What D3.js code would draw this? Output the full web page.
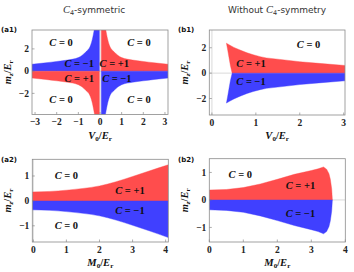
<!DOCTYPE html>
<html>
<head>
<meta charset="utf-8">
<script src="https://cdn.jsdelivr.net/npm/d3@7"></script>
<style>
  body { margin: 0; background: #fff; }
  svg { display: block; }
</style>
</head>
<body>
<div id="chart"></div>
<script>
// boundary of the C=+-1 regions, C4-symmetric case (|V0| vs mz)
var c4V = [0.06, 0.1, 0.15, 0.2, 0.26, 0.35, 0.44, 0.67, 1, 1.5, 2, 2.5, 3.14];
var c4M = [9, 7, 5.5, 4.5, 3.8, 2.9, 2.3, 1.7, 1.22, 1.0, 0.87, 0.75, 0.62];
var c4LeftV = [-3.14, -2.5, -2, -1.5, -1, -0.67, -0.44, -0.35, -0.26, -0.2, -0.15, -0.1, -0.03];
var c4LeftM = [0.62, 0.75, 0.87, 1.0, 1.22, 1.7, 2.3, 2.9, 3.8, 4.5, 5.5, 7, 9];

// without C4: upper boundary and left edge
var ncTopV = [0.33, 0.4, 0.5, 0.64, 0.8, 0.94, 1.1, 1.24, 1.55, 2, 2.5, 3.05];
var ncTopM = [2.36, 2.22, 2.03, 1.82, 1.6, 1.45, 1.3, 1.2, 1.08, 0.9, 0.75, 0.6];
var ncEdgeV = [0.33, 0.36, 0.39, 0.42, 0.46];
var ncEdgeM = [2.36, 1.8, 1.2, 0.6, 0];

// C4 vs M0
var a2M = [-0.03, 0.5, 1, 1.5, 2, 2.5, 3, 3.5, 4.08];
var a2Up = [0.36, 0.38, 0.43, 0.5, 0.6, 0.77, 0.98, 1.2, 1.45];
var a2Low = [-0.36, -0.38, -0.43, -0.5, -0.6, -0.77, -0.98, -1.2, -1.47];

// without C4 vs M0
var b2M = [0, 0.5, 1, 1.5, 2, 2.5, 3, 3.2, 3.36, 3.45, 3.52, 3.56, 3.6, 3.62];
var b2Up = [0.36, 0.38, 0.45, 0.58, 0.75, 0.93, 1.07, 1.13, 1.2, 1.12, 0.95, 0.75, 0.4, 0];
var b2Low = [-0.36, -0.38, -0.45, -0.58, -0.75, -0.93, -1.08, -1.15, -1.23, -1.15, -0.97, -0.76, -0.4, 0];

var ticksA1x = [-3, -2, -1, 0, 1, 2, 3], ticksA1y = [-2, 0, 2];
var ticksB1x = [0, 1, 2, 3], ticksB1y = [-2, 0, 2];
var ticksA2x = [0, 1, 2, 3, 4], ticksA2y = [-1, 0, 1];
var ticksB2x = [0, 1, 2, 3, 4], ticksB2y = [-1, 0, 1];

var RED = "#ff4d4d", BLUE = "#4040ff";
var mathFont = "'Liberation Serif', 'DejaVu Serif', serif";

var svg = d3.select("#chart").append("svg")
    .attr("width", 354)
    .attr("height", 272);

function zip(a, b) { return a.map(function(v, i) { return [v, b[i]]; }); }

function panel(id, box, xdom, ydom, xt, yt) {
  var x = d3.scaleLinear().domain(xdom).range([box[0], box[1]]);
  var y = d3.scaleLinear().domain(ydom).range([box[3], box[2]]);
  svg.append("clipPath").attr("id", id)
    .append("rect")
      .attr("x", box[0]).attr("y", box[2])
      .attr("width", box[1] - box[0]).attr("height", box[3] - box[2]);
  var g = svg.append("g");
  var plot = g.append("g").attr("clip-path", "url(#" + id + ")");
  // zero lines
  plot.append("line")
      .attr("x1", box[0]).attr("x2", box[1])
      .attr("y1", y(0)).attr("y2", y(0))
      .attr("stroke", "#d0d0d0").attr("stroke-width", 0.8);
  if (xdom[0] < 0 && xdom[1] > 0) {
    plot.append("line")
        .attr("x1", x(0)).attr("x2", x(0))
        .attr("y1", box[2]).attr("y2", box[3])
        .attr("stroke", "#d0d0d0").attr("stroke-width", 0.8);
  }
  g.append("rect")
      .attr("class", "frame")
      .attr("x", box[0]).attr("y", box[2])
      .attr("width", box[1] - box[0]).attr("height", box[3] - box[2])
      .attr("fill", "none").attr("stroke", "#8a8a8a").attr("stroke-width", 0.8);
  // ticks
  g.selectAll(".xt").data(xt).enter().append("line")
      .attr("x1", function(d) { return x(d); }).attr("x2", function(d) { return x(d); })
      .attr("y1", box[3]).attr("y2", box[3] - 2.5)
      .attr("stroke", "#777").attr("stroke-width", 0.6);
  g.selectAll(".yt").data(yt).enter().append("line")
      .attr("x1", box[0]).attr("x2", box[0] + 2.5)
      .attr("y1", function(d) { return y(d); }).attr("y2", function(d) { return y(d); })
      .attr("stroke", "#777").attr("stroke-width", 0.6);
  g.selectAll(".xl").data(xt).enter().append("text")
      .attr("x", function(d) { return x(d); })
      .attr("y", box[3] + 10.5)
      .attr("text-anchor", "middle")
      .style("font-family", mathFont).style("font-size", "9.5px").style("font-weight", "bold")
      .attr("fill", "#222")
      .text(function(d) { return d < 0 ? "\u2212" + (-d) : d; });
  g.selectAll(".yl").data(yt).enter().append("text")
      .attr("x", box[0] - 3)
      .attr("y", function(d) { return y(d) + 3.2; })
      .attr("text-anchor", "end")
      .style("font-family", mathFont).style("font-size", "9.5px").style("font-weight", "bold")
      .attr("fill", "#222")
      .text(function(d) { return d < 0 ? "\u2212" + (-d) : d; });
  return {x: x, y: y, g: g, plot: plot, box: box};
}

function fillArea(p, xs, ys, color, curve) {
  var area = d3.area()
      .x(function(d) { return p.x(d[0]); })
      .y0(p.y(0))
      .y1(function(d) { return p.y(d[1]); })
      .curve(curve || d3.curveMonotoneX);
  p.plot.append("path").datum(zip(xs, ys))
      .attr("d", area)
      .attr("fill", color).attr("stroke", color).attr("stroke-width", 0.4);
}

function fillPoly(p, pts, color) {
  var line = d3.line()
      .x(function(d) { return p.x(d[0]); })
      .y(function(d) { return p.y(d[1]); });
  p.plot.append("path").datum(pts)
      .attr("d", line(pts) + "Z")
      .attr("fill", color).attr("stroke", color).attr("stroke-width", 0.4);
}

function cLabel(p, vx, vy, val) {
  var t = p.g.append("text")
      .attr("x", p.x(vx)).attr("y", p.y(vy) + 3.5)
      .attr("text-anchor", "middle")
      .style("font-family", mathFont).style("font-size", "10.5px").style("font-weight", "bold")
      .attr("fill", "#111");
  t.append("tspan").style("font-style", "italic").text("C");
  t.append("tspan").text(" = " + val);
}

function axisLabel(p, which, main, sub) {
  var b = p.box, t;
  if (which == "x") {
    t = p.g.append("text")
        .attr("x", (b[0] + b[1]) / 2).attr("y", b[3] + 24);
  } else {
    var cy = (b[2] + b[3]) / 2, cx = b[0] - 21;
    t = p.g.append("text")
        .attr("transform", "translate(" + cx + "," + cy + ") rotate(-90)");
  }
  t.attr("text-anchor", "middle")
      .style("font-family", mathFont).style("font-size", "10.5px").style("font-weight", "bold")
      .attr("fill", "#111");
  t.append("tspan").style("font-style", "italic").text(main);
  t.append("tspan").attr("dy", 2).style("font-size", "7px").style("font-style", which == "x" ? "normal" : "italic").text(sub);
  t.append("tspan").attr("dy", -2).text("/");
  t.append("tspan").style("font-style", "italic").text("E");
  t.append("tspan").attr("dy", 2).style("font-size", "7px").text("r");
}

function panelTag(px, py, s) {
  svg.append("text").attr("x", px).attr("y", py)
      .style("font-family", "'DejaVu Sans', sans-serif").style("font-size", "7px").style("font-weight", "bold")
      .attr("fill", "#111").text(s);
}

function title(cx, cy, before) {
  var t = svg.append("text").attr("x", cx).attr("y", cy)
      .attr("text-anchor", "middle")
      .style("font-family", "'DejaVu Sans', sans-serif").style("font-size", "9px")
      .attr("fill", "#333");
  if (before) t.append("tspan").text(before);
  t.append("tspan").style("font-family", mathFont).style("font-style", "italic").style("font-size", "10.5px").text("C");
  t.append("tspan").attr("dy", 2).style("font-size", "6.5px").text("4");
  t.append("tspan").attr("dy", -2).text(before ? "-symmetry" : "-symmetric");
}

// (a1)
var a1 = panel("ca1", [32, 168, 30, 114.5], [-3.14, 3.14], [-3.9, 3.7], ticksA1x, ticksA1y);
fillArea(a1, c4V, c4M, RED);
fillArea(a1, c4V, c4M.map(function(v) { return -v; }), BLUE);
fillArea(a1, c4LeftV, c4LeftM, BLUE);
fillArea(a1, c4LeftV, c4LeftM.map(function(v) { return -v; }), RED);
cLabel(a1, -1.8, 2.6, "0"); cLabel(a1, 1.8, 2.6, "0");
cLabel(a1, -0.96, 0.67, "\u22121"); cLabel(a1, 0.66, 0.67, "+1");
cLabel(a1, -0.96, -0.68, "+1"); cLabel(a1, 0.78, -0.68, "\u22121");
cLabel(a1, -1.8, -2.55, "0"); cLabel(a1, 1.8, -2.55, "0");
axisLabel(a1, "x", "V", "0"); axisLabel(a1, "y", "m", "z");

// (b1)
var b1 = panel("cb1", [209.3, 345, 30, 115], [-0.06, 3.03], [-3.3, 3.4], ticksB1x, ticksB1y);
var upPts = zip(ncEdgeV, ncEdgeM).reverse().concat(zip(ncTopV, ncTopM).slice(1));
upPts.push([ncTopV[ncTopV.length - 1], 0]);
fillPoly(b1, upPts, RED);
fillPoly(b1, upPts.map(function(d) { return [d[0], -d[1]]; }), BLUE);
cLabel(b1, 2.2, 2.23, "0");
cLabel(b1, 0.89, 0.73, "+1");
cLabel(b1, 0.89, -0.66, "\u22121");
axisLabel(b1, "x", "V", "0"); axisLabel(b1, "y", "m", "z");

// (a2)
var a2 = panel("ca2", [32.3, 168.3, 159.3, 242], [-0.03, 4.08], [-1.65, 1.67], ticksA2x, ticksA2y);
fillArea(a2, a2M, a2Up, RED);
fillArea(a2, a2M, a2Low, BLUE);
cLabel(a2, 1.0, 1.0, "0");
cLabel(a2, 2.92, 0.4, "+1");
cLabel(a2, 2.92, -0.4, "\u22121");
cLabel(a2, 1.0, -1.0, "0");
axisLabel(a2, "x", "M", "0"); axisLabel(a2, "y", "m", "z");

// (b2)
var b2 = panel("cb2", [209.3, 345.3, 158.7, 242], [0, 4], [-1.53, 1.5], ticksB2x, ticksB2y);
fillPoly(b2, zip(b2M, b2Up).concat([[0, 0]]), RED);
fillPoly(b2, zip(b2M, b2Low).concat([[0, 0]]), BLUE);
cLabel(b2, 0.91, 0.91, "0");
cLabel(b2, 2.68, 0.51, "+1");
cLabel(b2, 2.68, -0.48, "\u22121");
axisLabel(b2, "x", "M", "0"); axisLabel(b2, "y", "m", "z");

// frames on top of the filled regions
svg.selectAll("rect.frame").raise();

title(94, 13, "");
title(277, 13, "Without ");
panelTag(1, 32, "(a1)");
panelTag(178, 32, "(b1)");
panelTag(1, 162, "(a2)");
panelTag(178, 162, "(b2)");
</script>
</body>
</html>
